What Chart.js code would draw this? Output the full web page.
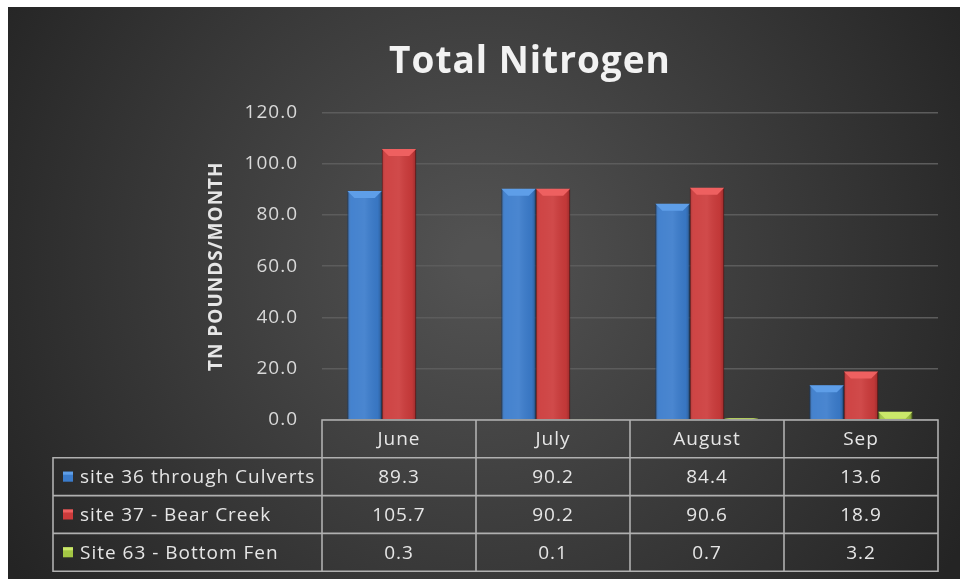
<!DOCTYPE html>
<html>
<head>
<meta charset="utf-8">
<script src="https://cdn.jsdelivr.net/npm/chart.js@4/dist/chart.umd.min.js"></script>
<style>
  html, body { margin: 0; padding: 0; background: #ffffff; }
  #wrap { position: relative; width: 960px; height: 579px; }
</style>
</head>
<body>
<div id="wrap"><canvas id="c" width="960" height="579"></canvas></div>
<script>
const categories = ['June', 'July', 'August', 'Sep'];
const seriesNames = ['site 36 through Culverts', 'site 37 - Bear Creek', 'Site 63 - Bottom Fen'];
const site36 = [89.3, 90.2, 84.4, 13.6];
const site37 = [105.7, 90.2, 90.6, 18.9];
const site63 = [0.3, 0.1, 0.7, 3.2];
const yMin = 0, yMax = 120, yStep = 20;

const FONT = "'Open Sans', 'DejaVu Sans', sans-serif";
const fills = ['#3b7ccc', '#cc3b3b', '#a3c644'];
const lights = ['#5e9ee8', '#ee6060', '#cbe86a'];
const borders = ['#1f4f8a', '#7e1f1f', '#6a8a22'];

const bgPlugin = {
  id: 'bg',
  beforeInit(chart) { chart.ctx.letterSpacing = '1px'; },
  beforeDraw(chart) {
    const ctx = chart.ctx;
    ctx.letterSpacing = '1px';
    ctx.save();
    ctx.fillStyle = '#ffffff';
    ctx.fillRect(0, 0, chart.width, chart.height);
    const g = ctx.createRadialGradient(480, 260, 20, 480, 260, 560);
    g.addColorStop(0, '#525252');
    g.addColorStop(1, '#242424');
    ctx.fillStyle = g;
    ctx.fillRect(8, 7, chart.width - 8, chart.height - 7);
    ctx.restore();
  }
};

const bevelPlugin = {
  id: 'bevel',
  afterDatasetsDraw(chart) {
    const ctx = chart.ctx;
    ctx.save();
    chart.data.datasets.forEach((ds, di) => {
      const meta = chart.getDatasetMeta(di);
      meta.data.forEach(bar => {
        const w = bar.width;
        const left = bar.x - w / 2, right = bar.x + w / 2;
        const top = bar.y, bottom = bar.base;
        const h = bottom - top;
        if (h <= 0) return;
        const g = ctx.createLinearGradient(left, 0, right, 0);
        g.addColorStop(0, 'rgba(0,0,0,0.18)');
        g.addColorStop(0.12, 'rgba(255,255,255,0.05)');
        g.addColorStop(0.5, 'rgba(255,255,255,0.08)');
        g.addColorStop(0.88, 'rgba(0,0,0,0.05)');
        g.addColorStop(1, 'rgba(0,0,0,0.25)');
        ctx.fillStyle = g;
        ctx.fillRect(left, top, w, h);
        const bh = Math.min(7, h);
        ctx.beginPath();
        ctx.moveTo(left, top);
        ctx.lineTo(right, top);
        ctx.lineTo(right - 7, top + bh);
        ctx.lineTo(left + 7, top + bh);
        ctx.closePath();
        ctx.fillStyle = lights[di];
        ctx.fill();
      });
    });
    ctx.restore();
  }
};

const tablePlugin = {
  id: 'dataTable',
  afterDraw(chart) {
    const ctx = chart.ctx;
    const xs = chart.scales.x;
    const area = chart.chartArea;
    const top = area.bottom;
    const rowH = 37.8;
    const tableLeft = 53;
    const colW = (area.right - area.left) / categories.length;
    const series = [site36, site37, site63];
    ctx.save();
    ctx.strokeStyle = '#b0b0b0';
    ctx.lineWidth = 1.6;
    ctx.beginPath();
    ctx.moveTo(area.left, top + rowH);
    ctx.lineTo(area.left, top);
    ctx.lineTo(area.right, top);
    ctx.lineTo(area.right, top + rowH * 4);
    ctx.lineTo(tableLeft, top + rowH * 4);
    ctx.lineTo(tableLeft, top + rowH);
    ctx.lineTo(area.right, top + rowH);
    for (let r = 2; r <= 3; r++) {
      ctx.moveTo(tableLeft, top + rowH * r);
      ctx.lineTo(area.right, top + rowH * r);
    }
    for (let i = 0; i < categories.length; i++) {
      const cx = xs.getPixelForValue(i);
      const l = cx - colW / 2;
      ctx.moveTo(l, top);
      ctx.lineTo(l, top + rowH * 4);
    }
    ctx.stroke();

    ctx.letterSpacing = '1px';
    ctx.fillStyle = '#e6e6e6';
    ctx.font = "19px " + FONT;
    ctx.textBaseline = 'middle';
    ctx.textAlign = 'center';
    categories.forEach((c, i) => {
      const cx = xs.getPixelForValue(i);
      ctx.fillText(c, cx, top + rowH * 0.5 + 1);
      series.forEach((s, si) => {
        ctx.fillText(s[i].toFixed(1), cx, top + rowH * (si + 1.5) + 1);
      });
    });
    ctx.textAlign = 'left';
    seriesNames.forEach((n, si) => {
      const cy = top + rowH * (si + 1.5);
      ctx.fillStyle = fills[si];
      ctx.fillRect(63, cy - 5, 10, 10);
      ctx.fillStyle = lights[si];
      ctx.fillRect(63, cy - 5, 10, 3);
      ctx.fillStyle = '#e6e6e6';
      ctx.fillText(n, 80, cy + 1);
    });
    ctx.restore();
  }
};

const mkDs = (label, data, i) => ({
  label, data,
  backgroundColor: fills[i],
  borderColor: borders[i],
  borderWidth: 1,
  barPercentage: 1.0,
  categoryPercentage: 0.67
});

new Chart(document.getElementById('c'), {
  type: 'bar',
  data: {
    labels: categories,
    datasets: [
      mkDs(seriesNames[0], site36, 0),
      mkDs(seriesNames[1], site37, 1),
      mkDs(seriesNames[2], site63, 2)
    ]
  },
  options: {
    responsive: false,
    animation: false,
    layout: { padding: { left: 122, right: 22, top: 0, bottom: 159 } },
    plugins: {
      legend: { display: false },
      tooltip: { enabled: false },
      title: {
        display: true,
        text: 'Total Nitrogen',
        color: '#f2f2f2',
        font: { family: FONT, size: 37, weight: 'bold' },
        padding: { top: 40, bottom: 28 }
      }
    },
    scales: {
      x: { display: false },
      y: {
        min: yMin, max: yMax,
        afterFit(scale) { scale.width = 200; },
        ticks: {
          stepSize: yStep,
          color: '#d9d9d9',
          padding: 24,
          font: { family: FONT, size: 19 },
          callback: v => Number(v).toFixed(1)
        },
        grid: { color: '#5c5c5c', lineWidth: 1.5, drawTicks: false },
        border: { display: false },
        title: {
          display: true,
          text: 'TN POUNDS/MONTH',
          color: '#e6e6e6',
          font: { family: FONT, size: 19, weight: 'bold' },
          padding: { top: 83, bottom: 0 }
        }
      }
    }
  },
  plugins: [bgPlugin, bevelPlugin, tablePlugin]
});
</script>
</body>
</html>
